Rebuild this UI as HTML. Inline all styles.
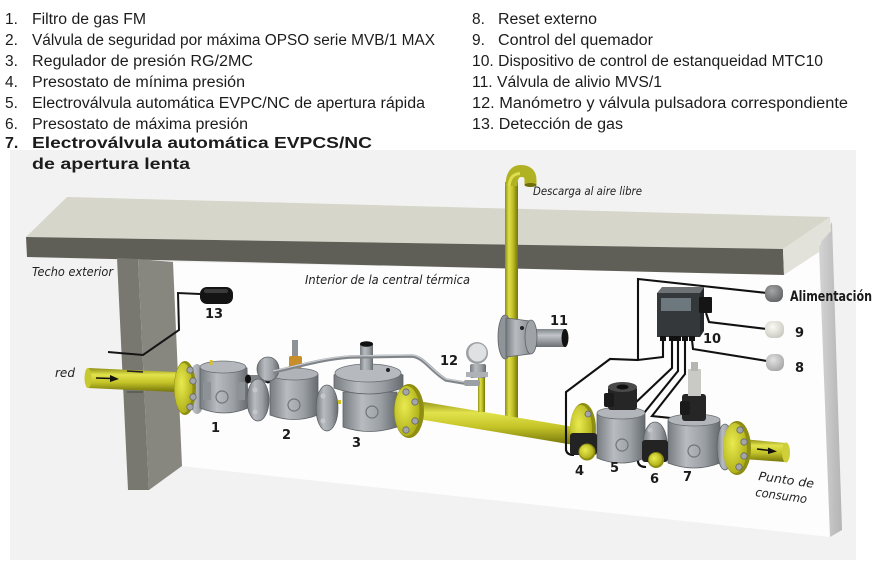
<!DOCTYPE html>
<html><head><meta charset="utf-8">
<style>
html,body{margin:0;padding:0;background:#fff;}
svg{display:block;}
</style></head>
<body>
<svg width="884" height="566" viewBox="0 0 884 566" xmlns="http://www.w3.org/2000/svg">
<defs>
<linearGradient id="py" x1="0" y1="0" x2="0" y2="1">
<stop offset="0" stop-color="#8d8d14"/><stop offset="0.28" stop-color="#e2e24c"/><stop offset="0.6" stop-color="#c4c428"/><stop offset="1" stop-color="#74740b"/>
</linearGradient>
<linearGradient id="pyv" x1="0" y1="0" x2="1" y2="0">
<stop offset="0" stop-color="#8d8d14"/><stop offset="0.3" stop-color="#dede48"/><stop offset="0.6" stop-color="#c0c026"/><stop offset="1" stop-color="#74740b"/>
</linearGradient>
<linearGradient id="gb" x1="0" y1="0" x2="1" y2="0">
<stop offset="0" stop-color="#777c81"/><stop offset="0.35" stop-color="#b8bcc0"/><stop offset="0.7" stop-color="#9a9fa4"/><stop offset="1" stop-color="#666b70"/>
</linearGradient>
<linearGradient id="gv" x1="0" y1="0" x2="0" y2="1">
<stop offset="0" stop-color="#80858a"/><stop offset="0.35" stop-color="#c2c6ca"/><stop offset="1" stop-color="#6a6f74"/>
</linearGradient>
<linearGradient id="strip" x1="0" y1="0" x2="1" y2="0">
<stop offset="0" stop-color="#d4d4d4"/><stop offset="1" stop-color="#b4b4b4"/>
</linearGradient>
<radialGradient id="kd" cx="0.4" cy="0.35" r="0.7"><stop offset="0" stop-color="#a4a6a8"/><stop offset="1" stop-color="#626466"/></radialGradient>
<radialGradient id="kw" cx="0.4" cy="0.35" r="0.7"><stop offset="0" stop-color="#fbfbf6"/><stop offset="1" stop-color="#c9c9c0"/></radialGradient>
<radialGradient id="kl" cx="0.4" cy="0.35" r="0.7"><stop offset="0" stop-color="#e2e2e2"/><stop offset="1" stop-color="#a6a6a6"/></radialGradient>
<radialGradient id="yd" cx="0.4" cy="0.4" r="0.7"><stop offset="0" stop-color="#eaea50"/><stop offset="1" stop-color="#a8a812"/></radialGradient>
</defs>

<!-- background panel -->
<rect x="0" y="0" width="884" height="566" fill="#ffffff"/>
<rect x="10" y="150" width="846" height="410" fill="#f2f2f2"/>
<!-- interior wall -->
<polygon points="173,262 783,274 819,252 830,537 181,466" fill="#fdfdfd"/>
<!-- right strip -->
<polygon points="819,246 832,222 842,530 830,537" fill="url(#strip)"/>

<!-- ceiling slab -->
<polygon points="26,237 67,197 830,217 783,249" fill="#d7d6ca"/>
<polygon points="26,237 783,249 784,275 27,257" fill="#5f5e57"/>
<polygon points="783,249 830,217 831,231 819,244 819,252 784,275" fill="#e3e2da"/>

<!-- pillar -->
<polygon points="117,258 138,259 149,490 128,490" fill="#797870"/>
<polygon points="138,259 173,262 182,466 149,490" fill="#88877f"/>

<!-- header text -->
<g font-family="'Liberation Sans', Arial, sans-serif" font-size="15.5" fill="#1c1c1c">
<text x="5" y="24">1.</text><text x="32" y="24" textLength="114" lengthAdjust="spacingAndGlyphs">Filtro de gas FM</text>
<text x="5" y="45">2.</text><text x="32" y="45" textLength="403" lengthAdjust="spacingAndGlyphs">Válvula de seguridad por máxima OPSO serie MVB/1 MAX</text>
<text x="5" y="66">3.</text><text x="32" y="66" textLength="221" lengthAdjust="spacingAndGlyphs">Regulador de presión RG/2MC</text>
<text x="5" y="87">4.</text><text x="32" y="87" textLength="213" lengthAdjust="spacingAndGlyphs">Presostato de mínima presión</text>
<text x="5" y="108">5.</text><text x="32" y="108" textLength="393" lengthAdjust="spacingAndGlyphs">Electroválvula automática EVPC/NC de apertura rápida</text>
<text x="5" y="129">6.</text><text x="32" y="129" textLength="216" lengthAdjust="spacingAndGlyphs">Presostato de máxima presión</text>
<text x="5" y="148" font-weight="bold" font-size="16">7.</text><text x="32" y="148" font-weight="bold" font-size="16" textLength="340" lengthAdjust="spacingAndGlyphs">Electroválvula automática EVPCS/NC</text>
<text x="32" y="169" font-weight="bold" font-size="16" textLength="158" lengthAdjust="spacingAndGlyphs">de apertura lenta</text>

<text x="472" y="24">8.</text><text x="498" y="24" textLength="99" lengthAdjust="spacingAndGlyphs">Reset externo</text>
<text x="472" y="45">9.</text><text x="498" y="45" textLength="155" lengthAdjust="spacingAndGlyphs">Control del quemador</text>
<text x="472" y="66" textLength="351" lengthAdjust="spacingAndGlyphs">10. Dispositivo de control de estanqueidad MTC10</text>
<text x="472" y="87" textLength="190" lengthAdjust="spacingAndGlyphs">11. Válvula de alivio MVS/1</text>
<text x="472" y="108" textLength="376" lengthAdjust="spacingAndGlyphs">12. Manómetro y válvula pulsadora correspondiente</text>
<text x="472" y="129" textLength="151" lengthAdjust="spacingAndGlyphs">13. Detección de gas</text>
</g>

<!-- italic labels -->
<g font-family="'DejaVu Sans', Verdana, sans-serif" font-style="italic" font-size="12" fill="#222">
<text x="32" y="276" textLength="81" lengthAdjust="spacingAndGlyphs">Techo exterior</text>
<text x="305" y="284" textLength="165" lengthAdjust="spacingAndGlyphs">Interior de la central térmica</text>
<text x="533" y="195" font-size="11.5" textLength="109" lengthAdjust="spacingAndGlyphs">Descarga al aire libre</text>
<text x="55" y="377">red</text>
<text x="758" y="480" transform="rotate(8 758 480)" textLength="56" lengthAdjust="spacingAndGlyphs">Punto de</text>
<text x="755" y="496" transform="rotate(8 755 496)" textLength="52" lengthAdjust="spacingAndGlyphs">consumo</text>
</g>

<!-- vent pipe (in front of slab) -->
<rect x="505" y="182" width="13" height="236" fill="url(#pyv)"/>
<path d="M511.5 186 Q511.5 171 521 171 Q530.5 171 530.5 180 L530.5 185" fill="none" stroke="#b1b124" stroke-width="12"/>
<path d="M509 186 Q510 174 520 173.5" fill="none" stroke="#dede4c" stroke-width="3"/>
<ellipse cx="530.5" cy="185" rx="6" ry="2" fill="#6d6d0a"/>

<!-- sensor 13 and wire -->
<path d="M200 294 L178 293 L179 330 L143 355 L108 352" fill="none" stroke="#151515" stroke-width="2"/>
<rect x="200" y="287" width="33" height="17" rx="7" fill="#141414"/>
<rect x="204" y="289" width="24" height="4" rx="2" fill="#3a3a3a"/>

<!-- inlet pipe -->
<polygon points="88,368 176,372 176,392 88,388" fill="url(#py)"/>
<ellipse cx="88" cy="378" rx="3.5" ry="10" fill="#c8c830"/>
<line x1="127" y1="371" x2="143" y2="372" stroke="#222" stroke-width="1.5"/>
<line x1="127" y1="392" x2="143" y2="392" stroke="#444" stroke-width="1"/>
<line x1="96" y1="378" x2="112" y2="378.5" stroke="#111" stroke-width="1.6"/>
<polygon points="119,379 110,375 110,382" fill="#111"/>

<!-- left flange -->
<ellipse cx="197" cy="389" rx="9" ry="25" fill="url(#gb)"/>
<ellipse cx="185" cy="388" rx="11" ry="27" fill="#8e8e12"/>
<ellipse cx="183.5" cy="388" rx="9" ry="25" fill="url(#yd)"/>
<circle cx="190" cy="370" r="3.2" fill="#a2a6aa" stroke="#666" stroke-width="0.8"/>
<circle cx="193" cy="381" r="3.2" fill="#a2a6aa" stroke="#666" stroke-width="0.8"/>
<circle cx="193" cy="397" r="3.2" fill="#a2a6aa" stroke="#666" stroke-width="0.8"/>
<circle cx="190" cy="407" r="3.2" fill="#a2a6aa" stroke="#666" stroke-width="0.8"/>

<!-- component 1 -->
<path d="M200 368 Q223 358 247 368 L248 408 Q224 418 200 408 Z" fill="url(#gb)" stroke="#5d6267" stroke-width="0.8"/>
<ellipse cx="223" cy="367" rx="23" ry="6" fill="#b4b8bc" stroke="#6b7075" stroke-width="0.8"/>
<rect x="210" y="360" width="2.5" height="5" fill="#d8c020"/>
<circle cx="222" cy="397" r="6" fill="none" stroke="#6f7479" stroke-width="1.2"/>
<rect x="203" y="382" width="8" height="18" fill="#8d9297"/>
<rect x="237" y="382" width="8" height="18" fill="#8d9297"/>

<!-- connector black tube 1-2 -->
<rect x="246" y="375" width="26" height="8" fill="#7f8489"/>
<ellipse cx="248" cy="379" rx="3" ry="4.5" fill="#111"/>
<ellipse cx="268" cy="379" rx="3" ry="4.5" fill="#111"/>

<!-- component 2 -->
<ellipse cx="258" cy="400" rx="11" ry="21" fill="url(#gb)" stroke="#5d6267" stroke-width="0.8"/>
<circle cx="255" cy="390" r="2.5" fill="#c5c8cb"/><circle cx="255" cy="412" r="2.5" fill="#c5c8cb"/>
<path d="M270 374 Q294 364 318 374 L318 415 Q294 424 270 415 Z" fill="url(#gb)" stroke="#5d6267" stroke-width="0.8"/>
<ellipse cx="294" cy="374" rx="24" ry="6" fill="#b0b4b8" stroke="#6b7075" stroke-width="0.8"/>
<ellipse cx="268" cy="369" rx="11" ry="12" fill="url(#gb)" stroke="#5d6267" stroke-width="0.8"/>
<rect x="292" y="340" width="6" height="18" fill="#8d9297"/>
<rect x="289" y="356" width="13" height="12" rx="2" fill="#c88e2a"/>
<circle cx="294" cy="405" r="6" fill="none" stroke="#6f7479" stroke-width="1.2"/>

<!-- component 3 -->
<ellipse cx="327" cy="408" rx="11" ry="23" fill="url(#gb)" stroke="#5d6267" stroke-width="0.8"/>
<circle cx="323" cy="396" r="2.5" fill="#c5c8cb"/><circle cx="323" cy="421" r="2.5" fill="#c5c8cb"/>
<path d="M343 392 L397 392 L397 427 Q370 436 343 427 Z" fill="url(#gb)" stroke="#5d6267" stroke-width="0.8"/>
<path d="M334 375 Q368 358 403 375 L403 388 Q368 400 334 388 Z" fill="url(#gb)" stroke="#5d6267" stroke-width="0.8"/>
<ellipse cx="368" cy="373" rx="33" ry="9" fill="#b6babe" stroke="#6b7075" stroke-width="0.8"/>
<rect x="360" y="344" width="13" height="26" fill="url(#gb)"/>
<ellipse cx="366.5" cy="344" rx="6.5" ry="2.8" fill="#111"/>
<circle cx="388" cy="370" r="2" fill="#222"/>
<rect x="338" y="400" width="3" height="4" fill="#d0c020"/>
<circle cx="372" cy="412" r="6" fill="none" stroke="#6f7479" stroke-width="1.2"/>

<!-- pulse tube -->
<path d="M273 372 C300 366 322 359 350 357 L412 356 C424 357 432 372 446 380 L470 384" fill="none" stroke="#80858a" stroke-width="3.5"/>
<path d="M273 371 C300 365 322 358 350 356 L412 355 C424 356 432 371 446 379 L470 383" fill="none" stroke="#c9cdd1" stroke-width="1.2"/>

<!-- middle pipe -->
<polygon points="412,400 574,427 574,445 412,418" fill="url(#py)"/>
<!-- small manometer riser -->
<rect x="478" y="376" width="7" height="36" fill="url(#pyv)"/>
<!-- right flange of comp 3 -->
<ellipse cx="409" cy="411" rx="15" ry="27" fill="#8e8e12"/>
<ellipse cx="407" cy="411" rx="12.5" ry="25" fill="url(#yd)"/>
<circle cx="406" cy="392" r="3.2" fill="#a2a6aa" stroke="#666" stroke-width="0.8"/>
<circle cx="415" cy="402" r="3.2" fill="#a2a6aa" stroke="#666" stroke-width="0.8"/>
<circle cx="415" cy="421" r="3.2" fill="#a2a6aa" stroke="#666" stroke-width="0.8"/>
<circle cx="406" cy="430" r="3.2" fill="#a2a6aa" stroke="#666" stroke-width="0.8"/>

<!-- manometer 12 -->
<rect x="470" y="364" width="16" height="14" rx="2" fill="url(#gb)"/>
<rect x="466" y="372" width="22" height="5" fill="#aeb2b6"/>
<rect x="464" y="380" width="16" height="6" rx="2" fill="#9ba0a5"/>
<circle cx="477" cy="353" r="11" fill="#9da1a5"/>
<circle cx="477.5" cy="352.5" r="9" fill="#dfe1e3"/>

<!-- relief valve 11 -->
<rect x="530" y="329" width="36" height="18" fill="url(#gv)"/>
<ellipse cx="565" cy="338" rx="3.5" ry="9" fill="#111"/>
<ellipse cx="505" cy="337" rx="7" ry="22" fill="#8f9499" stroke="#5d6267" stroke-width="0.8"/>
<path d="M506 318 L530 321 Q537 337 530 354 L506 357 Z" fill="url(#gb)" stroke="#5d6267" stroke-width="0.8"/>
<ellipse cx="531" cy="337" rx="6" ry="17" fill="#9ea3a8" stroke="#5d6267" stroke-width="0.8"/>
<circle cx="522" cy="328" r="2" fill="#222"/>

<!-- wires -->
<g fill="none" stroke="#111" stroke-width="2.1">
<path d="M767 293 L638 279 L638 360 L663 357 L663 340"/>
<path d="M638 360 L610 359 L566 392 L566 450 Q567 455 574 455"/>
<path d="M672 340 L672 368 L632 406 L612 406"/>
<path d="M678 340 L678 371 L640 418 L638 462 Q639 467 646 467"/>
<path d="M685 340 L685 374 L652 416 L690 420"/>
<path d="M692 340 L693 349 L767 361"/>
<path d="M706 313 L709 322 L767 329"/>
</g>

<!-- controller 10 -->
<polygon points="657,293 662,287 704,287 700,293" fill="#6f7275"/>
<rect x="657" y="293" width="43" height="44" fill="#35383b"/>
<polygon points="700,293 704,287 704,331 700,337" fill="#25282a"/>
<rect x="661" y="298" width="30" height="13" fill="#6c777e"/>
<rect x="699" y="297" width="13" height="16" rx="1" fill="#151515"/>
<rect x="660" y="336" width="6" height="5" fill="#111"/>
<rect x="669" y="336" width="6" height="5" fill="#111"/>
<rect x="675" y="336" width="6" height="5" fill="#111"/>
<rect x="682" y="336" width="6" height="5" fill="#111"/>
<rect x="689" y="336" width="6" height="5" fill="#111"/>

<!-- knobs -->
<rect x="765" y="285" width="18" height="17" rx="7" fill="url(#kd)"/>
<rect x="765" y="321" width="19" height="17" rx="7" fill="url(#kw)"/>
<rect x="766" y="354" width="18" height="17" rx="7" fill="url(#kl)"/>

<!-- flange before valve 5 -->
<ellipse cx="583" cy="429" rx="13" ry="26" fill="#8e8e12"/>
<ellipse cx="581" cy="429" rx="11" ry="24" fill="url(#yd)"/>
<circle cx="588" cy="414" r="3" fill="#a2a6aa" stroke="#666" stroke-width="0.8"/>
<circle cx="590" cy="440" r="3" fill="#a2a6aa" stroke="#666" stroke-width="0.8"/>

<!-- valve 5 -->
<path d="M597 414 Q621 404 645 414 L645 458 Q621 468 597 458 Z" fill="url(#gb)" stroke="#5d6267" stroke-width="0.8"/>
<ellipse cx="621" cy="413" rx="24" ry="6" fill="#b2b6ba" stroke="#6b7075" stroke-width="0.8"/>
<circle cx="622" cy="445" r="6" fill="none" stroke="#6f7479" stroke-width="1.2"/>
<rect x="608" y="386" width="29" height="24" rx="3" fill="#262626"/>
<ellipse cx="622.5" cy="387" rx="14.5" ry="5" fill="#4a4a4a"/>
<ellipse cx="622.5" cy="387" rx="6" ry="2.5" fill="#111"/>
<rect x="604" y="393" width="10" height="14" rx="2" fill="#1a1a1a"/>

<!-- between 5 and 7 -->
<ellipse cx="655" cy="444" rx="12" ry="22" fill="url(#gb)" stroke="#5d6267" stroke-width="0.8"/>
<circle cx="650" cy="430" r="2.5" fill="#c5c8cb"/>

<!-- valve 7 -->
<path d="M668 421 Q694 411 720 421 L720 463 Q694 473 668 463 Z" fill="url(#gb)" stroke="#5d6267" stroke-width="0.8"/>
<ellipse cx="694" cy="420" rx="26" ry="6" fill="#b2b6ba" stroke="#6b7075" stroke-width="0.8"/>
<circle cx="694" cy="451" r="6" fill="none" stroke="#6f7479" stroke-width="1.2"/>
<rect x="682" y="394" width="24" height="27" rx="3" fill="#262626"/>
<rect x="680" y="401" width="10" height="14" rx="2" fill="#1a1a1a"/>
<rect x="688" y="369" width="13" height="27" fill="#c9c9c6"/>
<rect x="691" y="362" width="7" height="9" fill="#b5b5b2"/>

<!-- pressure switches 4 and 6 -->
<rect x="570" y="433" width="27" height="22" rx="3" fill="#232323"/>
<circle cx="587" cy="452" r="8.5" fill="#8e8e12"/>
<circle cx="586.5" cy="451.5" r="7" fill="url(#yd)"/>
<rect x="642" y="440" width="26" height="22" rx="3" fill="#232323"/>
<circle cx="656" cy="460" r="8" fill="#8e8e12"/>
<circle cx="655.5" cy="459.5" r="6.5" fill="url(#yd)"/>

<!-- right flange & outlet -->
<ellipse cx="725" cy="447" rx="8" ry="23" fill="url(#gb)" stroke="#5d6267" stroke-width="0.8"/>
<polygon points="742,439 786,443 786,462 742,459" fill="url(#py)"/>
<ellipse cx="786" cy="452.5" rx="4" ry="10" fill="#cfcf3a"/>
<line x1="757" y1="449" x2="770" y2="450.5" stroke="#111" stroke-width="1.5"/>
<polygon points="777,451.5 768,447.5 768,454" fill="#111"/>
<ellipse cx="737" cy="448" rx="14" ry="27" fill="#8e8e12"/>
<ellipse cx="735" cy="448" rx="12" ry="25" fill="url(#yd)"/>
<circle cx="740" cy="430" r="3.2" fill="#a2a6aa" stroke="#666" stroke-width="0.8"/>
<circle cx="744" cy="442" r="3.2" fill="#a2a6aa" stroke="#666" stroke-width="0.8"/>
<circle cx="744" cy="456" r="3.2" fill="#a2a6aa" stroke="#666" stroke-width="0.8"/>
<circle cx="739" cy="467" r="3.2" fill="#a2a6aa" stroke="#666" stroke-width="0.8"/>

<!-- bold number labels -->
<g font-family="'DejaVu Sans', Verdana, sans-serif" font-weight="bold" font-size="13" fill="#1a1a1a">
<text x="211" y="432">1</text>
<text x="282" y="439">2</text>
<text x="352" y="447">3</text>
<text x="205" y="318">13</text>
<text x="440" y="365">12</text>
<text x="550" y="325">11</text>
<text x="703" y="343">10</text>
<text x="795" y="337">9</text>
<text x="795" y="372">8</text>
<text x="575" y="475">4</text>
<text x="610" y="472">5</text>
<text x="650" y="483">6</text>
<text x="683" y="481">7</text>
<text x="790" y="301" font-size="14" textLength="82" lengthAdjust="spacingAndGlyphs">Alimentación</text>
</g>
</svg>
</body></html>
